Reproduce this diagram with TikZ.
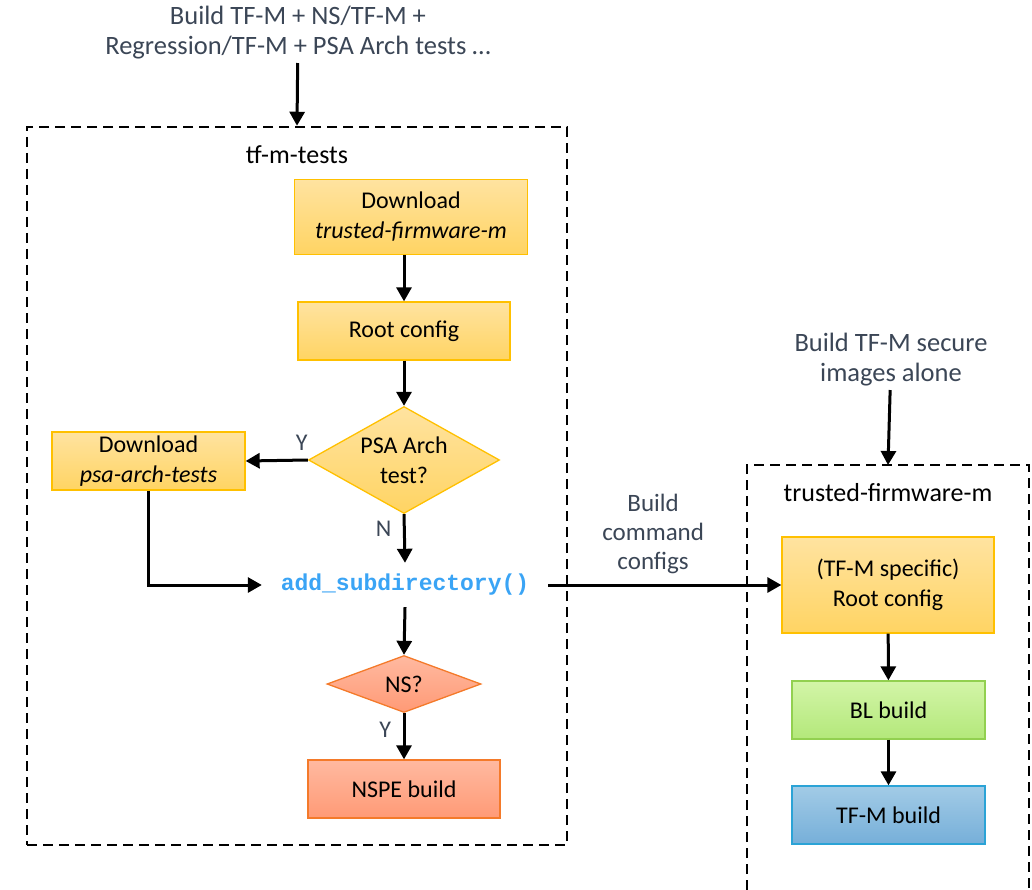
\documentclass[tikz,border=0pt]{standalone}
\usepackage{fontspec}
\setmainfont{Carlito}
\newfontfamily\codefont{Liberation Mono}
\usetikzlibrary{positioning,shapes.geometric,arrows.meta}

\definecolor{notegray}{HTML}{3B4656}
\definecolor{goldline}{HTML}{FFC000}
\definecolor{goldtop}{HTML}{FFE3A0}
\definecolor{goldbot}{HTML}{FFD463}
\definecolor{orangeline}{HTML}{F47A2A}
\definecolor{orangetop}{HTML}{FFB9A0}
\definecolor{orangebot}{HTML}{FF9A76}
\definecolor{greenline}{HTML}{92D050}
\definecolor{greentop}{HTML}{D3F5A8}
\definecolor{greenbot}{HTML}{B3E87A}
\definecolor{blueline}{HTML}{2BA3D6}
\definecolor{bluetop}{HTML}{A2CBE6}
\definecolor{bluebot}{HTML}{76AFD9}
\definecolor{cmakeblue}{HTML}{3AA4F5}

\tikzset{
  flow/.style={-{Triangle[length=14pt,width=15pt]}, line width=3pt},
  groupline/.style={line width=2.5pt, dash pattern=on 10pt off 6pt},
  yellowbox/.style={draw=goldline, line width=1.3pt, top color=goldtop, bottom color=goldbot,
    align=center, inner sep=0pt},
  orangebox/.style={draw=orangeline, line width=1.3pt, top color=orangetop, bottom color=orangebot,
    align=center, inner sep=0pt},
  greenbox/.style={draw=greenline, line width=1.3pt, top color=greentop, bottom color=greenbot,
    align=center, inner sep=0pt},
  bluebox/.style={draw=blueline, line width=1.3pt, top color=bluetop, bottom color=bluebot,
    align=center, inner sep=0pt},
  choice/.style={diamond, inner sep=0pt, align=center, line width=1.3pt},
  note/.style={align=center, text=notegray, font=\fontsize{26.5}{30}\selectfont},
  title/.style={font=\fontsize{26}{30}\selectfont},
  yn/.style={text=notegray, font=\fontsize{24}{29}\selectfont},
}

\begin{document}
\begin{tikzpicture}[x=1pt, y=-1pt, font=\fontsize{24}{30}\selectfont]
  \useasboundingbox (0,0) rectangle (1032,890);

  % left group
  \node (tests) [draw, groupline, minimum width=540pt, minimum height=718pt] at (297,486) {};
  \node (teststitle) [title] at (297,155) {tf-m-tests};
  \node (alltests) [note] at (298,33) {Build TF-M + NS/TF-M +\\Regression/TF-M + PSA Arch tests \dots};

  \node (dltfm) [yellowbox, minimum width=233pt, minimum height=75pt] at (411,217)
    {Download\\\itshape trusted-firmware-m};
  \node (rootcfg) [yellowbox, minimum width=212pt, minimum height=58pt] at (404,331) {Root config};
  \node (psa) [choice, top color=goldtop, bottom color=goldbot, draw=goldline,
    minimum width=191pt, minimum height=107pt, aspect=1.78] at (404,460) {PSA Arch\\test?};
  \node (dlpsa) [yellowbox, minimum width=193pt, minimum height=58pt] at (148.5,461)
    {Download\\\itshape psa-arch-tests};
  \node (addsub) [minimum width=286pt, minimum height=44pt, inner sep=0pt, text=cmakeblue,
    font=\codefont\bfseries\fontsize{23}{29}\selectfont] at (405,585) {add\_subdirectory()};
  \node (ns) [choice, top color=orangetop, bottom color=orangebot, draw=orangeline,
    minimum width=154pt, minimum height=57pt, aspect=2.7] at (404,684) {NS?};
  \node (nspe) [orangebox, minimum width=192pt, minimum height=58pt] at (404,789) {NSPE build};

  \draw[flow] (alltests) -- (tests.north);
  \draw[flow] (dltfm.south -| rootcfg) -- (rootcfg);
  \draw[flow] (rootcfg) -- (psa);
  \draw[flow] (psa.west) -- node[pos=0.1, above=5pt, yn] {Y} (dlpsa.east);
  \draw[flow] (psa.south) -- node[pos=0.3, left=8pt, yn] {N} (addsub.north);
  \draw[flow] (dlpsa.south) |- (addsub.west);
  \draw[flow] (addsub.south) -- (ns.north);
  \draw[flow] (ns.south) -- node[pos=0.35, left=8pt, yn] {Y} (nspe.north);

  % right group
  \draw[groupline] (747,890) -- (747,465) -- (1029,465) -- (1029,890);
  \coordinate (tfmtop) at (888,465);
  \node (tfmtitle) [title] at (888,493) {trusted-firmware-m};
  \node (secure) [note] at (891,360) {Build TF-M secure\\images alone};

  \node (tfmroot) [yellowbox, minimum width=212pt, minimum height=96pt] at (888,585)
    {(TF-M specific)\\Root config};
  \node (blbuild) [greenbox, minimum width=193pt, minimum height=58pt] at (888.5,710) {BL build};
  \node (tfmbuild) [bluebox, minimum width=193pt, minimum height=58pt] at (888.5,815) {TF-M build};

  \draw[flow] (secure) -- (tfmtop);
  \draw[flow] (addsub.east) -- node[pos=0.45, above=6pt, note, font=\fontsize{25}{29}\selectfont]
    {Build\\command\\configs} (tfmroot.west);
  \draw[flow] (tfmroot) -- (blbuild);
  \draw[flow] (blbuild) -- (tfmbuild);
\end{tikzpicture}
\end{document}
